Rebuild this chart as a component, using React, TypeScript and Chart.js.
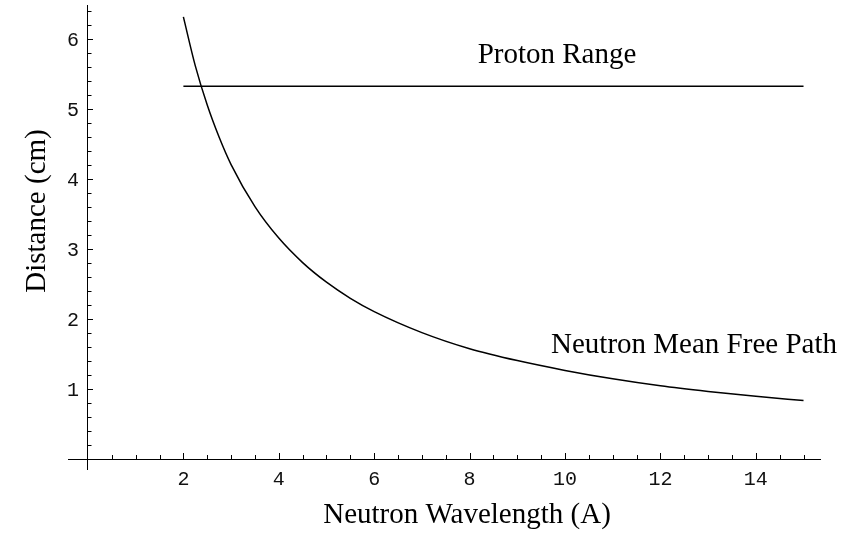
import React, { useEffect, useRef } from 'react';
import { Chart, registerables } from 'chart.js';

Chart.register(...registerables);

// Neutron mean free path (cm) at each wavelength (Å)
const wavelengths = [2, 2.25, 2.5, 2.75, 3, 3.5, 4, 4.5, 5, 5.5, 6, 7, 8, 9, 10, 11, 12, 13, 14, 15];
const meanFreePath = [6.32, 5.62, 5.06, 4.6, 4.21, 3.61, 3.16, 2.81, 2.53, 2.3, 2.11, 1.81, 1.58, 1.41, 1.27, 1.15, 1.05, 0.97, 0.9, 0.84];

// Proton range: flat line
const protonRangeX = [2, 15];
const protonRangeY = [5.33, 5.33];

// Tick labels
const xTickLabels = [2, 4, 6, 8, 10, 12, 14];
const yTickLabels = [1, 2, 3, 4, 5, 6];

const xTitle = 'Neutron Wavelength (A)';
const yTitle = 'Distance (cm)';
const protonLabel = 'Proton Range';
const neutronLabel = 'Neutron Mean Free Path';

const X_MIN = -0.4;
const X_MAX = 15.36;
const Y_MIN = -0.15;
const Y_MAX = 6.48;

const xMinorStep = 0.5;
const yMinorStep = 0.2;

const serif = '"Liberation Serif", "Times New Roman", serif';
const mono = '"Liberation Mono", "Courier New", monospace';
const tickFont = `20px ${mono}`;

const decorPlugin = {
  id: 'decor',
  afterDraw(chart: any) {
    const { ctx, scales } = chart;
    const x = scales.x;
    const y = scales.y;
    const x0 = x.getPixelForValue(0);
    const y0 = y.getPixelForValue(0);
    ctx.save();
    ctx.strokeStyle = '#000';
    ctx.lineWidth = 1;
    ctx.beginPath();
    // x ticks (upward)
    const nx = Math.round(15 / xMinorStep);
    for (let i = 1; i <= nx; i++) {
      const v = i * xMinorStep;
      const major = Math.abs(v / 2 - Math.round(v / 2)) < 1e-6;
      const px = Math.round(x.getPixelForValue(v)) + 0.5;
      ctx.moveTo(px, Math.round(y0));
      ctx.lineTo(px, Math.round(y0) - (major ? 6 : 4));
    }
    // y ticks (rightward)
    const ny = Math.round(6.4 / yMinorStep);
    for (let i = 1; i <= ny; i++) {
      const v = i * yMinorStep;
      const major = Math.abs(v - Math.round(v)) < 1e-6;
      const py = Math.round(y.getPixelForValue(v)) + 0.5;
      ctx.moveTo(Math.round(x0), py);
      ctx.lineTo(Math.round(x0) + (major ? 5 : 3.5), py);
    }
    ctx.stroke();

    // y tick labels
    ctx.fillStyle = '#111';
    ctx.font = tickFont;
    ctx.textAlign = 'right';
    ctx.textBaseline = 'middle';
    yTickLabels.forEach((v) => {
      ctx.fillText(String(v), x0 - 9, y.getPixelForValue(v) + 1);
    });

    // Texts
    ctx.fillStyle = '#000';
    ctx.font = `29px ${serif}`;
    ctx.textAlign = 'center';
    ctx.textBaseline = 'alphabetic';
    ctx.fillText(xTitle, 467, 523);
    ctx.fillText(protonLabel, 557, 63);
    ctx.fillText(neutronLabel, 694, 353);

    ctx.save();
    ctx.translate(45, 211);
    ctx.rotate(-Math.PI / 2);
    ctx.fillText(yTitle, 0, 0);
    ctx.restore();

    ctx.restore();
  },
};

const zeroPad = (s: any) => {
  s.paddingLeft = 0;
  s.paddingRight = 0;
  s.paddingTop = 0;
  s.paddingBottom = 0;
};

export default function App() {
  const canvasRef = useRef<HTMLCanvasElement | null>(null);

  useEffect(() => {
    if (!canvasRef.current) return;
    const curve = wavelengths.map((w, i) => ({ x: w, y: meanFreePath[i] }));
    const proton = protonRangeX.map((w, i) => ({ x: w, y: protonRangeY[i] }));

    const chart = new Chart(canvasRef.current, {
      type: 'line',
      data: {
        datasets: [
          {
            label: neutronLabel,
            data: curve,
            borderColor: '#000',
            borderWidth: 1.5,
            pointRadius: 0,
            fill: false,
            cubicInterpolationMode: 'monotone',
          },
          {
            label: protonLabel,
            data: proton,
            borderColor: '#000',
            borderWidth: 1.5,
            pointRadius: 0,
            fill: false,
          },
        ],
      },
      options: {
        animation: false,
        responsive: false,
        maintainAspectRatio: false,
        layout: {
          padding: { left: 68.9, right: 36.3, top: 5.7, bottom: 63.2 },
        },
        plugins: {
          legend: { display: false },
          tooltip: { enabled: false },
        },
        scales: {
          x: {
            type: 'linear',
            min: X_MIN,
            max: X_MAX,
            position: { y: 0 } as any,
            grid: { display: false, drawTicks: false },
            border: { display: true, color: '#000', width: 1 },
            ticks: {
              autoSkip: false,
              maxRotation: 0,
              padding: 8,
              color: '#111',
              font: { family: mono, size: 20 },
              callback: (v: any) => String(v),
            },
            afterBuildTicks: (s: any) => {
              s.ticks = xTickLabels.map((v) => ({ value: v }));
            },
            afterFit: zeroPad,
          },
          y: {
            type: 'linear',
            min: Y_MIN,
            max: Y_MAX,
            position: { x: 0 } as any,
            grid: { display: false, drawTicks: false },
            border: { display: true, color: '#000', width: 1 },
            ticks: {
              display: false,
            },
            afterBuildTicks: (s: any) => {
              s.ticks = yTickLabels.map((v) => ({ value: v }));
            },
            afterFit: zeroPad,
          },
        },
      },
      plugins: [decorPlugin],
    });
    return () => chart.destroy();
  }, []);

  return (
    <div style={{ position: 'fixed', left: 0, top: 0, width: 857, height: 533, background: '#fff' }}>
      <canvas ref={canvasRef} width={857} height={533} style={{ width: 857, height: 533, display: 'block' }} />
    </div>
  );
}
